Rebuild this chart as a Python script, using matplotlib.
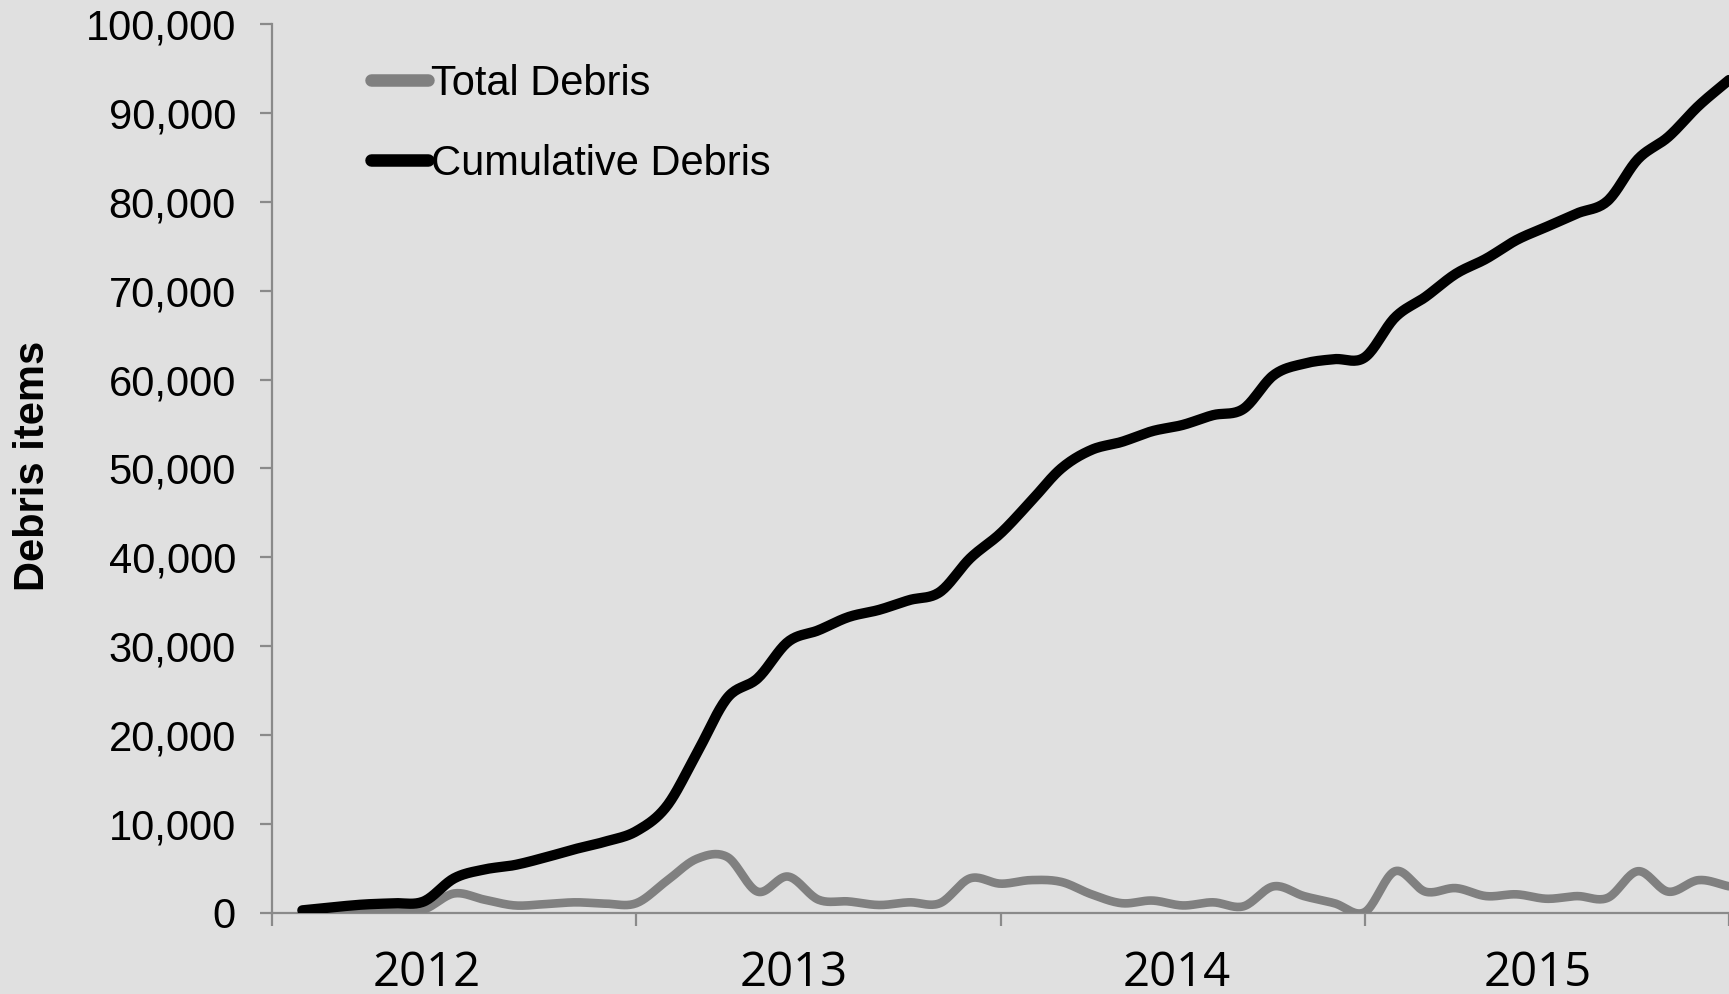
import numpy as np
import matplotlib
matplotlib.use("Agg")
import matplotlib.pyplot as plt
from matplotlib.ticker import FuncFormatter

# ---- data ----
months = list(range(1, 49))
total_debris = [100, 150, 200, 250, 400, 2200, 1500, 850, 1000, 1200, 1050, 1100,
                3600, 6100, 6300, 2400, 4100, 1500, 1300, 900, 1200, 1100, 3900, 3300,
                3700, 3500, 2100, 1100, 1400, 850, 1200, 750, 3000, 1900, 1100, 100,
                4700, 2400, 2800, 1900, 2100, 1600, 1900, 1700, 4700, 2400, 3700, 3000]
cumulative_debris = [300, 650, 950, 1100, 1300, 3900, 4900, 5400, 6250, 7200, 8050, 9200,
                     12000, 18000, 24200, 26400, 30500, 31800, 33300, 34100, 35200, 36100, 39900, 42700,
                     46300, 50000, 52100, 53000, 54200, 54900, 56000, 56700, 60500, 61800, 62300, 62500,
                     67000, 69300, 71900, 73600, 75700, 77200, 78700, 80100, 84800, 87300, 90800, 93700]
year_labels = ["2012", "2013", "2014", "2015"]
year_label_pos = [5.1, 17.2, 29.8, 41.7]
year_ticks = [0, 12, 24, 36, 48]
y_ticks = list(range(0, 100001, 10000))


def smooth(x, y, n=20):
    """Catmull-Rom rendering of a line (like a spreadsheet 'smoothed line')."""
    x = np.asarray(x, float)
    y = np.asarray(y, float)
    px = np.concatenate([[2 * x[0] - x[1]], x, [2 * x[-1] - x[-2]]])
    py = np.concatenate([[2 * y[0] - y[1]], y, [2 * y[-1] - y[-2]]])
    xs, ys = [], []
    for i in range(1, len(px) - 2):
        t = np.linspace(0, 1, n, endpoint=False)
        for arr, out in ((px, xs), (py, ys)):
            p0, p1, p2, p3 = arr[i - 1], arr[i], arr[i + 1], arr[i + 2]
            out.append(0.5 * ((2 * p1) + (-p0 + p2) * t + (2 * p0 - 5 * p1 + 4 * p2 - p3) * t ** 2
                              + (-p0 + 3 * p1 - 3 * p2 + p3) * t ** 3))
    xs.append([x[-1]])
    ys.append([y[-1]])
    return np.concatenate(xs), np.concatenate(ys)


bg = "#e0e0e0"
axis_col = "#8a8a8a"
fig = plt.figure(figsize=(17.29, 9.94), dpi=100, facecolor=bg)
ax = fig.add_axes([272 / 1729, 1 - 913 / 994, 1 - 272 / 1729, (913 - 24) / 994])
ax.set_facecolor(bg)

sx, sy = smooth(months, total_debris)
ax.plot(sx, sy, color="#808080", lw=6.2, solid_capstyle="round", label="Total Debris", zorder=3)
sx, sy = smooth(months, cumulative_debris)
ax.plot(sx, sy, color="#000000", lw=7.4, solid_capstyle="round", label="Cumulative Debris", zorder=4)

ax.set_xlim(0, 47.6)
ax.set_ylim(0, 100000)

for s in ("top", "right"):
    ax.spines[s].set_visible(False)
for s in ("left", "bottom"):
    ax.spines[s].set_color(axis_col)
    ax.spines[s].set_linewidth(1.6)

ax.set_yticks(y_ticks)
ax.yaxis.set_major_formatter(FuncFormatter(lambda v, p: f"{int(v):,}"))
ax.tick_params(axis="y", direction="out", length=9, width=1.6, color=axis_col,
               pad=17, labelsize=30, labelcolor="#000000")
for lab in ax.get_yticklabels():
    lab.set_fontfamily("Liberation Sans")

ax.set_xticks(year_ticks)
ax.set_xticklabels([""] * len(year_ticks))
ax.tick_params(axis="x", which="major", direction="out", length=9, width=1.6, color=axis_col)
ax.set_xticks(year_label_pos, minor=True)
ax.set_xticklabels(year_labels, minor=True, fontsize=34, fontfamily="Open Sans")
ax.tick_params(axis="x", which="minor", length=0, pad=26, labelcolor="#000000")

fig.text(33 / 1729, 1 - 466 / 994, "Debris items", rotation=90, ha="center", va="center",
         fontsize=30, fontweight="bold", fontfamily="Liberation Sans")

leg = ax.legend(loc="upper left", bbox_to_anchor=(0.068, 0.955), frameon=False,
                prop={"family": "Liberation Sans", "size": 30}, borderpad=0, borderaxespad=0,
                handlelength=1.37, handletextpad=0.07, labelspacing=0.96)
for h in leg.get_lines():
    h.set_linewidth(9)
    h.set_solid_capstyle("round")

fig.savefig("out.png", dpi=100, facecolor=bg)
